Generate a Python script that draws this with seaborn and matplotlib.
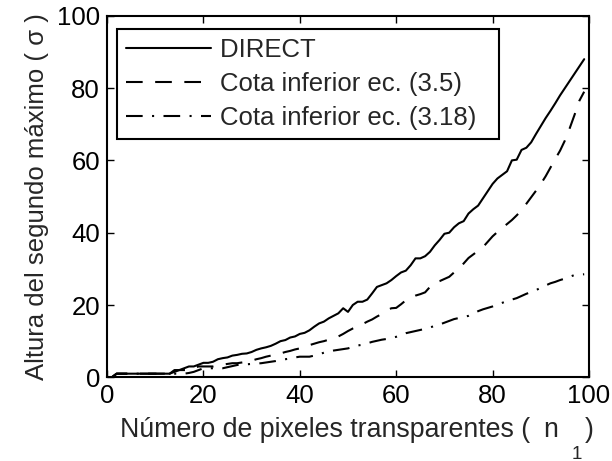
import numpy as np
import pandas as pd
import matplotlib
matplotlib.use("Agg")
import matplotlib.pyplot as plt
import seaborn as sns

# Number of transparent pixels n1
n1 = list(range(1, 100))

# Height of the second maximum, DIRECT search
direct = [0, 1, 1, 1, 1, 1, 1, 1, 1, 1, 1, 1, 1, 2, 2, 2.5, 3, 3, 3.5, 4,
          4, 4.3, 5, 5.3, 5.5, 6, 6.2, 6.5, 6.6, 7, 7.6, 8, 8.3, 8.7, 9.3, 10,
          10.3, 11, 11.3, 12, 12.3, 13, 14, 14.9, 15.4, 16.3, 17, 17.7, 19.1,
          18.1, 20, 20.9, 20.9, 21.5, 23.2, 25, 25.5, 26, 26.9, 28, 29, 29.5,
          31, 32.9, 32.9, 33.5, 34.7, 36.5, 38, 39.7, 40, 41.5, 42.6, 43.2,
          45.3, 46.5, 47.5, 49.5, 51.5, 53.5, 55, 56, 57, 60, 60.2, 62.9, 63.5,
          65, 67.3, 69.5, 71.7, 73.7, 75.8, 78, 80, 82, 84, 86, 88]

# Lower bound, eq. (3.5)
bound_35 = [0, 1, 1, 1, 1, 1, 1, 1, 1, 1, 1, 1, 1, 1.5, 2, 2, 2, 2.5, 3, 3,
            3, 3, 3.3, 3.5, 3.7, 3.9, 3.9, 4.1, 4.3, 4.6, 5, 5.3, 5.7, 6, 6.2,
            6.6, 7, 7.3, 7.7, 8, 8.4, 8.9, 9.3, 9.7, 10, 10.4, 11, 11.3, 12,
            12.8, 13.5, 14, 14.7, 15.4, 16, 16.8, 17.5, 18.5, 19.1, 19.2, 20.2,
            21.3, 22, 22.6, 23, 23.5, 25, 26.2, 26.6, 27.2, 27.8, 29, 30, 31.5,
            33, 34, 35, 36, 37.5, 39, 40.2, 41.3, 42.4, 43.5, 44.8, 46.2, 48,
            49.8, 51.6, 53.5, 55.6, 58, 60.4, 62.7, 65.5, 68.9, 72.6, 76.5, 79]

# Lower bound, eq. (3.18)
bound_318 = [0, 1, 1, 1, 1, 1, 1, 1, 1, 1, 1, 1, 1, 1, 1, 1, 1.2, 1.5, 2, 2.5,
             2.5, 2.5, 2.5, 2.5, 2.8, 3.1, 3.4, 3.5, 3.6, 3.7, 3.8, 3.9, 4.1,
             4.3, 4.5, 4.8, 5, 5.2, 5.5, 5.7, 5.7, 5.7, 6, 6.4, 6.8, 7.1, 7.4,
             7.6, 7.8, 8, 8.4, 8.8, 9, 9.4, 9.8, 10.1, 10.4, 10.6, 10.9, 11.2,
             11.7, 12.2, 12.5, 12.8, 13.1, 13.4, 13.8, 14.2, 14.6, 15.1, 15.6,
             16.1, 16.4, 16.7, 17, 17.6, 18.3, 18.8, 19.2, 19.6, 20.1, 20.6,
             21.1, 21.5, 21.9, 22.5, 23.1, 23.6, 24.1, 24.8, 25.4, 26, 26.4,
             26.9, 27.3, 27.8, 28.3, 28.4, 28.5]

labels = ["DIRECT", "Cota inferior ec. (3.5)", "Cota inferior ec. (3.18)"]
x_ticks = [0, 20, 40, 60, 80, 100]
y_ticks = [0, 20, 40, 60, 80, 100]

df = pd.concat([
    pd.DataFrame({"n1": n1, "altura": vals, "serie": lab})
    for vals, lab in zip([direct, bound_35, bound_318], labels)
])

FS = 18.5
W, H = 612, 461

sns.set_style("ticks")
plt.rcParams["font.family"] = ["Liberation Sans", "DejaVu Sans"]
plt.rcParams["font.size"] = FS
plt.rcParams["xtick.direction"] = "in"
plt.rcParams["ytick.direction"] = "in"

fig = plt.figure(figsize=(W / 100, H / 100), dpi=100)
ax = fig.add_axes([107 / W, 1 - 377.3 / H, 482 / W, 361.5 / H])

sns.lineplot(data=df, x="n1", y="altura", hue="serie", style="serie",
             palette=["black"] * 3,
             dashes={labels[0]: "", labels[1]: (8, 6),
                     labels[2]: (8, 4.5, 1, 4.5)},
             linewidth=1.5, ax=ax, legend=True)

ax.set_xlim(0, 100)
ax.set_ylim(0, 100)
ax.set_xticks(x_ticks)
ax.set_yticks(y_ticks)
ax.tick_params(axis="both", which="both", top=True, right=True,
               length=5, width=1, labelsize=FS, colors="black", pad=5)
for sp in ax.spines.values():
    sp.set_visible(True)
    sp.set_linewidth(1.5)
    sp.set_color("black")

# x-axis label written in pieces so that the subscript sits well below
ax.set_xlabel("")
fig.text(120 / W, 1 - 437 / H, "Número de pixeles transparentes (",
         fontsize=19.3, ha="left", va="baseline")
fig.text(543 / W, 1 - 437 / H, "n", fontsize=19.3, ha="left", va="baseline")
fig.text(585 / W, 1 - 437 / H, ")", fontsize=19.3, ha="left", va="baseline")
fig.text(576.5 / W, 1 - 458.5 / H, "1", fontsize=13.5, ha="center",
         va="baseline")

ax.set_ylabel("Altura del segundo máximo ( σ )", fontsize=FS, labelpad=6)

handles, _ = ax.get_legend_handles_labels()
leg = ax.legend(handles=handles[-3:],
                labels=[lab + "  " for lab in labels],
                loc="upper left",
                bbox_to_anchor=(10 / 482, 348.3 / 361.5), borderaxespad=0,
                fancybox=False, framealpha=1, edgecolor="black",
                handlelength=3.3, handletextpad=0.35, labelspacing=0.38,
                borderpad=0.35, fontsize=FS)
leg.get_frame().set_linewidth(1.5)

fig.savefig("out.png", dpi=100)
